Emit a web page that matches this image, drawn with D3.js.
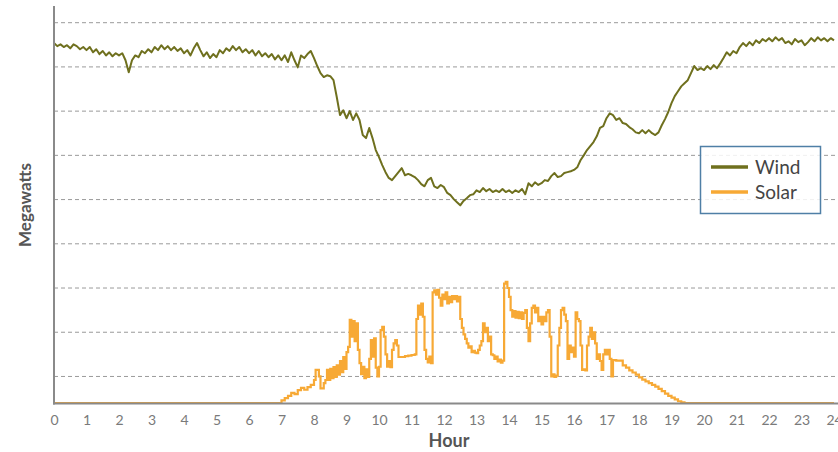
<!DOCTYPE html>
<html>
<head>
<meta charset="utf-8">
<script src="https://cdn.jsdelivr.net/npm/d3@7"></script>
<style>
  html, body { margin: 0; padding: 0; background: #fff; }
  svg { display: block; }
</style>
</head>
<body>
<svg id="chart" width="838" height="452"></svg>
<script>
// ---- DATA ----
const hourTicks = [0,1,2,3,4,5,6,7,8,9,10,11,12,13,14,15,16,17,18,19,20,21,22,23,24];
const gridValues = [600,1600,2600,3600,4600,5600,6600,7600,8600];
const windStartHour = 0;
const windStepHours = 0.1;
// Wind, MW, every 6 minutes from 0:00 to 24:00
const windMW = [
  8140,8070,8110,8050,8090,8020,8110,8070,8000,8050,
  7980,8050,7930,8000,7890,7960,7860,7930,7840,7910,
  7860,7910,7750,7480,7750,7860,7820,7960,7910,8000,
  7930,8050,7980,8090,8000,8070,7980,8050,7960,8020,
  7910,7980,7860,8020,8140,7980,7840,7930,7800,7890,
  7820,7980,7910,8020,7960,8070,7980,8050,7930,8000,
  7910,7980,7860,7960,7840,7910,7820,7890,7770,7860,
  7750,7860,7710,7930,7750,7590,7860,7800,7890,7960,
  7800,7620,7460,7370,7410,7390,7300,6920,6510,6620,
  6440,6600,6400,6550,6400,6060,5990,6220,5990,5720,
  5560,5380,5220,5090,5040,5130,5220,5310,5150,5180,
  5150,5110,5040,4950,4900,5040,5090,4900,4860,4930,
  4880,4750,4700,4610,4540,4470,4570,4630,4700,4720,
  4810,4770,4860,4790,4840,4770,4810,4770,4840,4770,
  4810,4750,4810,4770,4840,4720,4970,4900,4990,4930,
  4970,5040,5020,5130,5200,5110,5130,5200,5220,5240,
  5270,5330,5490,5600,5720,5810,5900,6030,6220,6260,
  6440,6550,6510,6400,6440,6330,6310,6240,6190,6120,
  6100,6170,6100,6170,6100,6060,6120,6280,6420,6580,
  6780,6940,7050,7160,7230,7300,7460,7620,7530,7570,
  7530,7620,7550,7640,7570,7680,7800,7930,7860,7960,
  7910,8050,8140,8070,8160,8090,8200,8140,8230,8180,
  8250,8180,8270,8200,8250,8140,8180,8110,8230,8160,
  8200,8090,8160,8250,8180,8270,8200,8250,8180,8250,
  8200
];
// Solar, [hour, MW]
const solarMW = [
  [0,0],[6.9,0],[7.0,60],[7.1,110],[7.2,160],[7.3,230],[7.4,200],[7.5,290],[7.6,340],[7.7,300],
  [7.8,360],[7.9,410],[8.0,520],[8.05,750],[8.15,600],[8.2,330],[8.3,450],
  [8.35,520],[8.4,750],[8.45,520],[8.5,770],[8.55,560],[8.6,810],[8.65,590],[8.7,850],[8.75,640],
  [8.8,950],[8.85,700],[8.9,1040],[8.95,770],[9.0,1150],
  [9.05,1270],[9.1,1880],[9.15,1500],[9.2,1850],[9.25,1400],[9.3,1800],[9.35,1200],[9.4,900],
  [9.45,650],[9.5,820],[9.55,560],[9.6,760],[9.65,590],[9.7,1000],[9.75,1420],[9.8,1050],[9.85,1460],
  [9.9,800],[9.95,600],[10.0,820],[10.05,1650],[10.1,1720],[10.15,1500],[10.2,1100],[10.25,820],
  [10.3,950],[10.35,810],[10.4,1200],[10.45,1350],[10.5,1420],[10.55,1300],[10.6,1040],[10.7,1040],
  [10.8,1060],[10.9,1070],[11.0,1085],[11.1,1100],[11.15,1900],[11.2,2200],[11.25,2000],[11.3,2250],
  [11.35,1950],[11.4,1200],[11.45,1000],[11.5,920],[11.55,1050],[11.6,900],[11.65,2500],[11.7,2550],
  [11.75,2450],[11.8,2560],[11.85,2380],[11.9,2200],[11.95,2450],[12.0,2350],[12.05,2500],[12.1,2250],
  [12.15,2400],[12.2,2280],[12.25,2420],[12.3,2350],[12.35,2420],[12.4,2300],[12.45,2400],[12.5,1900],
  [12.55,1700],[12.6,1550],[12.65,1450],[12.7,1350],[12.75,1250],[12.8,1280],[12.85,1150],[12.9,1180],
  [12.95,1140],[13.0,1130],[13.05,1200],[13.1,1300],[13.15,1400],[13.2,1800],[13.25,1600],[13.3,1700],
  [13.35,1400],[13.4,1500],[13.45,1100],[13.5,1080],[13.55,1000],[13.6,1050],[13.65,940],[13.7,980],
  [13.75,910],[13.8,960],[13.85,2700],[13.9,2740],[13.95,2600],[14.0,2400],[14.05,2100],[14.1,1950],
  [14.15,2080],[14.2,1930],[14.25,2060],[14.3,1920],[14.35,2050],[14.4,1900],[14.45,2040],[14.5,2100],
  [14.55,1700],[14.6,1400],[14.65,1800],[14.7,2150],[14.75,2200],[14.8,2050],[14.85,2150],[14.9,1850],
  [14.95,1950],[15.0,1780],[15.05,1950],[15.1,1850],[15.15,2050],[15.2,2100],[15.25,1500],[15.3,600],
  [15.35,650],[15.4,590],[15.45,620],[15.5,1300],[15.55,1700],[15.6,2100],[15.65,2150],[15.7,2000],
  [15.75,1850],[15.8,1000],[15.85,1300],[15.9,1150],[15.95,1250],[16.0,1050],[16.05,2050],[16.1,1900],
  [16.15,1850],[16.2,1300],[16.25,750],[16.3,760],[16.35,740],[16.4,1300],[16.45,1500],[16.5,1700],
  [16.55,1450],[16.6,1600],[16.65,1350],[16.7,1000],[16.75,1100],[16.8,950],[16.85,750],[16.9,1100],
  [16.95,1200],[17.0,1100],[17.05,1200],[17.1,1000],[17.15,600],[17.2,970],[17.3,960],[17.4,960],
  [17.5,850],[17.6,800],[17.7,740],[17.8,690],[17.9,640],[18.0,580],[18.1,530],[18.2,490],[18.3,450],
  [18.4,410],[18.5,370],[18.6,320],[18.7,270],[18.8,210],[18.9,160],[19.0,120],[19.1,80],[19.2,40],
  [19.3,15],[19.4,0],[24,0]
];
const legendItems = ["Wind", "Solar"];
const xTitle = "Hour";
const yTitle = "Megawatts";

// ---- CHART ----
const svg = d3.select("#chart");
const windColor = "#6f701e";
const solarColor = "#f7a935";
const axisColor = "#8a8a8a";

const x = d3.scaleLinear().domain([0, 24]).range([54, 834]);
const y = d3.scaleLinear().domain([0, 9000]).range([403, 5]);

// gridlines
svg.append("g").selectAll("line").data(gridValues).join("line")
  .attr("x1", x(0)).attr("x2", 838)
  .attr("y1", d => y(d)).attr("y2", d => y(d))
  .attr("stroke", "#9a9a9a").attr("stroke-width", 1)
  .attr("stroke-dasharray", "4,3");

// wind line
const windData = windMW.map((v, i) => [windStartHour + i * windStepHours, v]);
svg.append("path")
  .datum(windData)
  .attr("fill", "none")
  .attr("stroke", windColor)
  .attr("stroke-width", 2)
  .attr("stroke-linejoin", "round")
  .attr("d", d3.line().x(d => x(d[0])).y(d => y(d[1])));

// solar line
svg.append("path")
  .datum(solarMW)
  .attr("fill", "none")
  .attr("stroke", solarColor)
  .attr("stroke-width", 2.2)
  .attr("d", d3.line().x(d => x(d[0])).y(d => y(d[1])).curve(d3.curveStepAfter));

// x axis
const xAxis = d3.axisBottom(x).tickValues(hourTicks).tickSize(0).tickPadding(0).tickFormat(d3.format("d"));
const gx = svg.append("g").attr("transform", `translate(0,${y(0)})`).call(xAxis);
gx.select(".domain").remove();
gx.selectAll("text")
  .attr("y", 22).attr("dy", 0)
  .attr("fill", "#7a7a7a")
  .style("font-family", "Lato, 'Open Sans', sans-serif")
  .style("font-size", "14px");
svg.append("line")
  .attr("x1", x(0) - 1).attr("x2", 838)
  .attr("y1", y(0) + 0.5).attr("y2", y(0) + 0.5)
  .attr("stroke", axisColor).attr("stroke-width", 2);

// y axis line
const yAxis = d3.axisLeft(y).tickValues([]).tickSize(0);
const gy = svg.append("g").attr("transform", `translate(${x(0)},0)`).call(yAxis);
gy.select(".domain").attr("stroke", axisColor).attr("stroke-width", 2)
  .attr("d", `M0,${y(0) + 1.5}V${y(9000) + 1}`);

// axis titles
svg.append("text")
  .attr("x", 449).attr("y", 447)
  .attr("text-anchor", "middle")
  .attr("fill", "#555")
  .style("font-family", "Lato, 'Open Sans', sans-serif")
  .style("font-weight", "bold")
  .style("font-size", "18px")
  .text(xTitle);

svg.append("text")
  .attr("transform", "translate(31,205) rotate(-90)")
  .attr("text-anchor", "middle")
  .attr("fill", "#555")
  .style("font-family", "Lato, 'Open Sans', sans-serif")
  .style("font-weight", "bold")
  .style("font-size", "17px")
  .text(yTitle);

// legend
const lg = svg.append("g");
lg.append("rect")
  .attr("x", 700.5).attr("y", 146.5).attr("width", 120).attr("height", 67)
  .attr("fill", "#fff").attr("fill-opacity", 0.85)
  .attr("stroke", "#4f7fa6").attr("stroke-width", 1.5);
const legendColors = [windColor, solarColor];
legendItems.forEach((name, i) => {
  const ly = 167 + i * 25;
  lg.append("line")
    .attr("x1", 711).attr("x2", 748)
    .attr("y1", ly).attr("y2", ly)
    .attr("stroke", legendColors[i]).attr("stroke-width", 3.5);
  lg.append("text")
    .attr("x", 755).attr("y", ly + 6.5)
    .attr("fill", "#444")
    .style("font-family", "Lato, 'Open Sans', sans-serif")
    .style("font-size", "19px")
    .text(name);
});
</script>
</body>
</html>
